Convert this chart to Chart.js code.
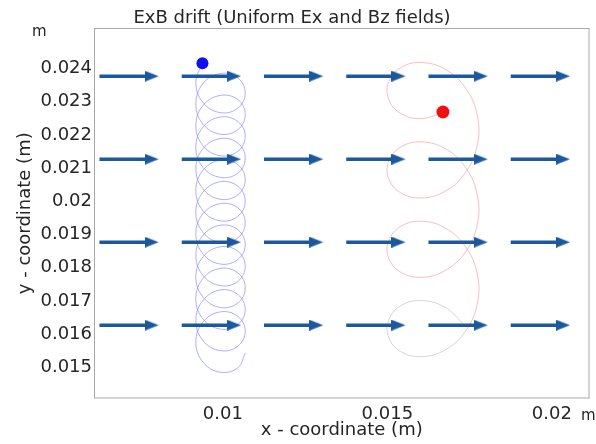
<!DOCTYPE html>
<html>
<head>
<meta charset="utf-8">
<title>ExB drift</title>
<script src="https://cdn.jsdelivr.net/npm/chart.js@4.4.1/dist/chart.umd.min.js"></script>
<style>
  html, body { margin: 0; padding: 0; background: #fff; }
  #wrap { width: 596px; height: 444px; }
</style>
</head>
<body>
<div id="wrap"><canvas id="drift-chart" width="596" height="444"></canvas></div>
<script>
// ── Axes ───────────────────────────────────────────────────────────
const X_MIN = 0.006084;
const X_MAX = 0.021144;
const Y_MIN = 0.01406;
const Y_MAX = 0.02522;
const X_TICKS = [0.01, 0.015, 0.02];
const Y_TICKS = [0.015, 0.016, 0.017, 0.018, 0.019, 0.02, 0.021, 0.022, 0.023, 0.024];

// ── Field arrows (uniform, pointing +x) ────────────────────────────
const ARROW_X0 = [0.00625, 0.00875, 0.01125, 0.01375, 0.01625, 0.01875];
const ARROW_Y = [0.02377, 0.02127, 0.01877, 0.01627];
const ARROW_LEN = 0.0018;

// ── Particle 1 (small gyro radius) ────────────────────────────────
const BLUE_X = [
  0.00940, 0.00918, 0.00940, 0.00993, 0.01046, 0.01068, 0.01046, 0.00993,
  0.00940, 0.00918, 0.00940, 0.00993, 0.01046, 0.01068, 0.01046, 0.00993,
  0.00940, 0.00918, 0.00940, 0.00993, 0.01046, 0.01068, 0.01046, 0.00993,
  0.00940, 0.00918, 0.00940, 0.00993, 0.01046, 0.01068, 0.01046, 0.00993,
  0.00940, 0.00918, 0.00940, 0.00993, 0.01046, 0.01068, 0.01046, 0.00993,
  0.00940, 0.00918, 0.00940, 0.00993, 0.01046, 0.01068, 0.01046, 0.00993,
  0.00940, 0.00918, 0.00940, 0.00993, 0.01046, 0.01068, 0.01046, 0.00993,
  0.00940, 0.00918, 0.00940, 0.00993, 0.01046, 0.01068, 0.01046, 0.00993,
  0.00940, 0.00918, 0.00940, 0.00993, 0.01046, 0.01068, 0.01046, 0.00993,
  0.00940, 0.00918, 0.00940, 0.00993, 0.01046, 0.01068, 0.01046, 0.00993,
  0.00940, 0.00918, 0.00940, 0.00993, 0.01046, 0.01068, 0.01046, 0.00993,
  0.00940, 0.00918, 0.00940, 0.00993, 0.01046, 0.01068, 0.01046, 0.00993,
  0.00940, 0.00918, 0.00940, 0.00993, 0.01046, 0.01068
];
const BLUE_Y = [
  0.02420, 0.02359, 0.02297, 0.02267, 0.02281, 0.02326, 0.02371, 0.02385,
  0.02355, 0.02293, 0.02232, 0.02202, 0.02216, 0.02261, 0.02306, 0.02319,
  0.02289, 0.02228, 0.02167, 0.02137, 0.02151, 0.02196, 0.02240, 0.02254,
  0.02224, 0.02163, 0.02102, 0.02072, 0.02085, 0.02130, 0.02175, 0.02189,
  0.02159, 0.02098, 0.02037, 0.02006, 0.02020, 0.02065, 0.02110, 0.02124,
  0.02094, 0.02033, 0.01971, 0.01941, 0.01955, 0.02000, 0.02045, 0.02059,
  0.02028, 0.01967, 0.01906, 0.01876, 0.01890, 0.01935, 0.01980, 0.01993,
  0.01963, 0.01902, 0.01841, 0.01811, 0.01825, 0.01869, 0.01914, 0.01928,
  0.01898, 0.01837, 0.01776, 0.01746, 0.01759, 0.01804, 0.01849, 0.01863,
  0.01833, 0.01772, 0.01711, 0.01680, 0.01694, 0.01739, 0.01784, 0.01798,
  0.01768, 0.01706, 0.01645, 0.01615, 0.01629, 0.01674, 0.01719, 0.01733,
  0.01702, 0.01641, 0.01580, 0.01550, 0.01564, 0.01609, 0.01653, 0.01667,
  0.01637, 0.01576, 0.01515, 0.01485, 0.01499, 0.01543
];
const BLUE_DOT = [0.00938, 0.02416];

// ── Particle 2 (large gyro radius) ────────────────────────────────
const RED_X = [
  0.01675, 0.01602, 0.01540, 0.01504, 0.01504, 0.01540, 0.01602, 0.01675, 0.01737, 0.01773, 0.01773, 0.01737,
  0.01675, 0.01602, 0.01540, 0.01504, 0.01504, 0.01540, 0.01602, 0.01675, 0.01737, 0.01773, 0.01773, 0.01737,
  0.01675, 0.01602, 0.01540, 0.01504, 0.01504, 0.01540, 0.01602, 0.01675, 0.01737, 0.01773, 0.01773, 0.01737,
  0.01675, 0.01602, 0.01540, 0.01504, 0.01504, 0.01540, 0.01602, 0.01675, 0.01737
];
const RED_Y = [
  0.02269, 0.02249, 0.02265, 0.02307, 0.02359, 0.02402, 0.02418, 0.02398, 0.02342, 0.02260, 0.02168, 0.02086,
  0.02030, 0.02010, 0.02026, 0.02068, 0.02120, 0.02163, 0.02179, 0.02159, 0.02103, 0.02021, 0.01929, 0.01847,
  0.01791, 0.01771, 0.01787, 0.01829, 0.01881, 0.01924, 0.01940, 0.01920, 0.01864, 0.01782, 0.01690, 0.01608,
  0.01552, 0.01532, 0.01548, 0.01590, 0.01642, 0.01685, 0.01701, 0.01681, 0.01625
];
const RED_DOT = [0.01669, 0.02269];

// ── Styling ────────────────────────────────────────────────────────
const FONT = 'DejaVu Sans';
const TEXT_COLOR = '#262626';
const ARROW_COLOR = '#1b589e';

function toPoints(xs, ys) {
  return xs.map(function (x, i) { return { x: x, y: ys[i] }; });
}

function fmt(v) {
  return String(parseFloat(v.toFixed(4)));
}

// Arrowhead bitmap: tip sits at the centre of the canvas
function makeHead(len, h, color) {
  const c = document.createElement('canvas');
  c.width = len * 2;
  c.height = h;
  const g = c.getContext('2d');
  g.fillStyle = color;
  g.beginPath();
  g.moveTo(0, 0);
  g.lineTo(len, h / 2);
  g.lineTo(0, h);
  g.closePath();
  g.fill();
  return c;
}

// Shafts broken by gaps, heads placed at the tips
const shaftPts = [];
const tipPts = [];
ARROW_Y.forEach(function (y) {
  ARROW_X0.forEach(function (x0) {
    shaftPts.push({ x: x0, y: y });
    shaftPts.push({ x: x0 + ARROW_LEN * 0.85, y: y });
    shaftPts.push({ x: x0, y: null });
    tipPts.push({ x: x0 + ARROW_LEN, y: y });
  });
});

// Frame, title and unit labels
const decorations = {
  id: 'decorations',
  beforeDraw: function (chart) {
    const ctx = chart.ctx;
    ctx.save();
    ctx.fillStyle = '#ffffff';
    ctx.fillRect(0, 0, chart.width, chart.height);
    ctx.restore();
  },
  afterDraw: function (chart) {
    const ctx = chart.ctx;
    const a = chart.chartArea;
    ctx.save();
    ctx.strokeStyle = '#a8a8a8';
    ctx.lineWidth = 1;
    ctx.strokeRect(a.left + 0.5, a.top + 0.5, a.right - a.left - 1, a.bottom - a.top - 1);

    ctx.fillStyle = TEXT_COLOR;
    ctx.textBaseline = 'alphabetic';
    ctx.textAlign = 'center';
    ctx.font = '18px "' + FONT + '"';
    ctx.fillText('ExB drift (Uniform Ex and Bz fields)', 292, 23);

    ctx.textAlign = 'left';
    ctx.font = '15px "' + FONT + '"';
    ctx.fillText('m', 32, 36);
    ctx.fillText('m', 581, 420);
    ctx.restore();
  }
};

const canvas = document.getElementById('drift-chart');
new Chart(canvas, {
  type: 'scatter',
  data: {
    datasets: [
      {
        data: [{ x: BLUE_DOT[0], y: BLUE_DOT[1] }],
        pointRadius: 6,
        backgroundColor: '#1010f5',
        borderWidth: 0
      },
      {
        data: [{ x: RED_DOT[0], y: RED_DOT[1] }],
        pointRadius: 6.5,
        backgroundColor: '#f01010',
        borderWidth: 0
      },
      {
        data: tipPts,
        pointStyle: makeHead(14, 11, ARROW_COLOR),
        pointRadius: 5
      },
      {
        data: shaftPts,
        showLine: true,
        spanGaps: false,
        borderColor: ARROW_COLOR,
        borderWidth: 3.5,
        pointRadius: 0
      },
      {
        data: toPoints(RED_X, RED_Y),
        showLine: true,
        tension: 0.4,
        borderWidth: 1,
        pointRadius: 0,
        borderColor: 'rgba(240, 110, 120, 0.45)',
        segment: {
          borderColor: function (ctx) {
            return ctx.p0DataIndex >= 35 ? 'rgba(190, 175, 170, 0.55)' : undefined;
          }
        }
      },
      {
        data: toPoints(BLUE_X, BLUE_Y),
        showLine: true,
        tension: 0.4,
        borderWidth: 1,
        pointRadius: 0,
        borderColor: 'rgba(110, 110, 245, 0.55)'
      }
    ]
  },
  options: {
    responsive: false,
    animation: false,
    devicePixelRatio: 1,
    layout: { padding: { top: 28, right: 2, bottom: 0, left: 0 } },
    plugins: {
      legend: { display: false },
      tooltip: { enabled: false },
      title: { display: false }
    },
    scales: {
      x: {
        type: 'linear',
        min: X_MIN,
        max: X_MAX,
        grid: { display: false, drawTicks: false },
        border: { display: false },
        afterBuildTicks: function (axis) {
          axis.ticks = X_TICKS.map(function (v) { return { value: v }; });
        },
        afterFit: function (axis) { axis.height = 45.5; },
        ticks: {
          padding: 5,
          maxRotation: 0,
          color: TEXT_COLOR,
          font: { family: FONT, size: 18 },
          callback: function (v) { return fmt(v); }
        },
        title: {
          display: true,
          text: 'x - coordinate (m)',
          color: TEXT_COLOR,
          font: { family: FONT, size: 18 },
          padding: { top: 0, bottom: 3 }
        }
      },
      y: {
        type: 'linear',
        min: Y_MIN,
        max: Y_MAX,
        grid: { display: false, drawTicks: false },
        border: { display: false },
        afterBuildTicks: function (axis) {
          axis.ticks = Y_TICKS.map(function (v) { return { value: v }; });
        },
        afterFit: function (axis) { axis.width = 94; },
        ticks: {
          padding: 2,
          color: TEXT_COLOR,
          font: { family: FONT, size: 18 },
          callback: function (v) { return fmt(v); }
        },
        title: {
          display: true,
          text: 'y - coordinate (m)',
          color: TEXT_COLOR,
          font: { family: FONT, size: 18 },
          padding: { top: 15, bottom: 0 }
        }
      }
    }
  },
  plugins: [decorations]
});
</script>
</body>
</html>
